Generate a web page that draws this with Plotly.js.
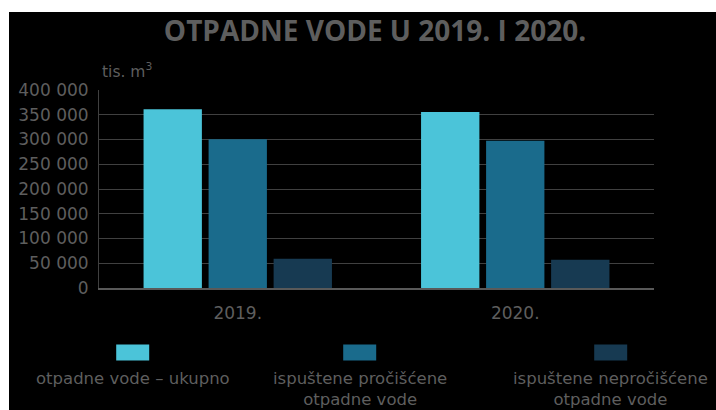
<!DOCTYPE html>
<html>
<head>
<meta charset="utf-8">
<script src="https://cdn.plot.ly/plotly-3.0.1.min.js"></script>
<style>
html, body { margin: 0; padding: 0; background: #ffffff; width: 716px; height: 410px; overflow: hidden; }
#chart { position: absolute; left: 9px; top: 12px; width: 707px; height: 398px; }
</style>
</head>
<body>
<div id="chart"></div>
<script>
// ---- data ----
const years = ["2019.", "2020."];
const seriesNames = [
  "otpadne vode – ukupno",
  "ispuštene pročišćene<br>otpadne vode",
  "ispuštene nepročišćene<br>otpadne vode"
];
const totalWater = [361000, 355500];
const treatedWater = [300500, 297500];
const untreatedWater = [59000, 57000];
const yTickValues = [0, 50000, 100000, 150000, 200000, 250000, 300000, 350000, 400000];
const titleText = "OTPADNE VODE U 2019. I 2020.";
const unitText = "tis. m<sup>3</sup>";

// ---- styles ----
const colors = ["#4BC4D9", "#1A6B8C", "#173A52"];
const textColor = "#5e5e5e";
const W = 707, H = 398;
const M = { l: 90.3, r: 61.7, t: 78, b: 121.7 };
const plotW = W - M.l - M.r, plotH = H - M.t - M.b;
const px = x => (x - M.l) / plotW;          // div px -> paper x
const py = y => (M.t + plotH - y) / plotH;  // div px -> paper y

const seriesValues = [totalWater, treatedWater, untreatedWater];
const traces = seriesValues.map((vals, i) => ({
  type: "bar",
  x: years,
  y: vals,
  name: seriesNames[i].replace("<br>", " "),
  marker: { color: colors[i], line: { width: 0 } },
  hoverinfo: "skip"
}));

// custom legend: square above centered text (positions in div px)
const legendCenters = [124, 351, 602];
const shapes = [];
const annotations = [];
seriesNames.forEach((nm, i) => {
  const cx = legendCenters[i];
  shapes.push({
    type: "rect", xref: "paper", yref: "paper",
    x0: px(cx - 16.5), x1: px(cx + 16.5), y0: py(349), y1: py(333),
    fillcolor: colors[i], line: { width: 0 }
  });
  annotations.push({
    xref: "paper", yref: "paper", x: px(cx), y: py(355),
    xanchor: "center", yanchor: "top", align: "center", showarrow: false,
    text: nm, font: { family: "DejaVu Sans", size: 16.5, color: textColor }
  });
});
annotations.push({
  xref: "paper", yref: "paper", x: px(91), y: py(71), xanchor: "left", yanchor: "bottom",
  showarrow: false, text: unitText,
  font: { family: "DejaVu Sans", size: 15.5, color: textColor }
});

const layout = {
  width: W, height: H,
  margin: M,
  paper_bgcolor: "#000000",
  plot_bgcolor: "#000000",
  separators: ", ",
  showlegend: false,
  barmode: "group",
  bargap: 0.297,
  bargroupgap: 0.103,
  title: {
    text: titleText,
    x: 366 / W, xanchor: "center", xref: "container",
    y: 1 - 19 / H, yanchor: "middle", yref: "container",
    font: { family: "Open Sans", size: 28, weight: 700, color: textColor }
  },
  xaxis: {
    type: "category",
    categoryarray: years,
    showgrid: false,
    showline: true, linecolor: "#595959", linewidth: 1.5,
    ticks: "", ticklabelstandoff: 9,
    tickfont: { family: "DejaVu Sans", size: 17, color: textColor },
    fixedrange: true
  },
  yaxis: {
    range: [0, 400000],
    tickvals: yTickValues,
    tickformat: ",d",
    showgrid: true, gridcolor: "#404040", gridwidth: 1,
    zeroline: false,
    showline: true, linecolor: "#404040", linewidth: 1,
    ticks: "", ticklabelstandoff: 6,
    tickfont: { family: "DejaVu Sans", size: 17, color: textColor },
    fixedrange: true
  },
  shapes: shapes,
  annotations: annotations,
  font: { family: "DejaVu Sans", color: textColor }
};

Plotly.newPlot("chart", traces, layout, { displayModeBar: false, staticPlot: true });
</script>
</body>
</html>
